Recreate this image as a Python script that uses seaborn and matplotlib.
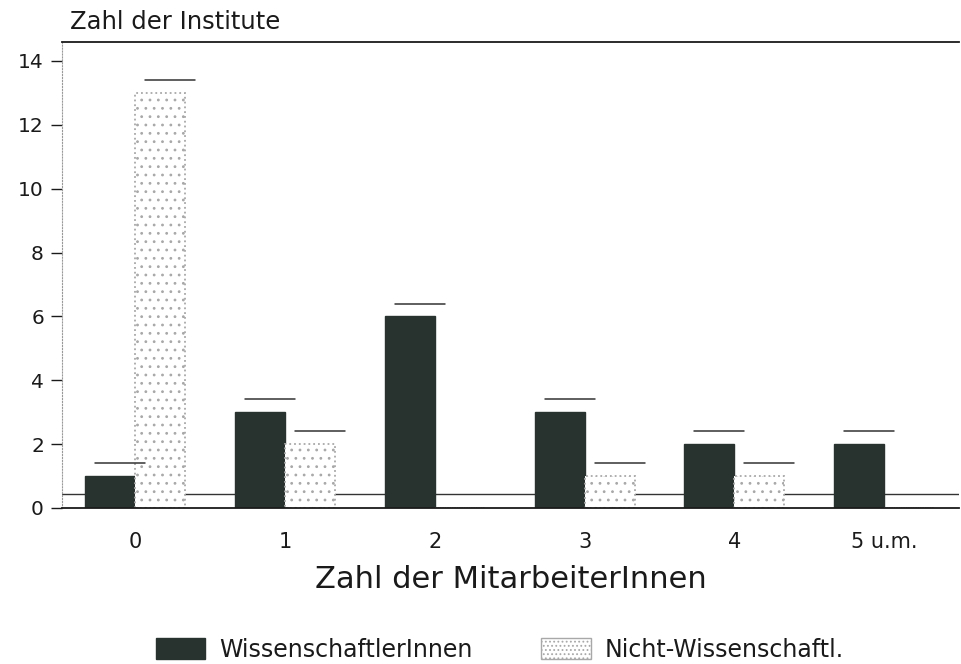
import pandas as pd
import matplotlib.pyplot as plt
import seaborn as sns
from matplotlib.patches import Patch

# values
categories = ['0', '1', '2', '3', '4', '5 u.m.']
wissenschaftler = [1, 3, 6, 3, 2, 2]
nicht_wissenschaftl = [13, 2, 0, 1, 1, 0]
series_names = ['WissenschaftlerInnen', 'Nicht-Wissenschaftl.']

df = pd.DataFrame({
    'cat': categories * 2,
    'val': wissenschaftler + nicht_wissenschaftl,
    'grp': [series_names[0]] * len(categories) + [series_names[1]] * len(categories),
})

sns.set_style('white')
plt.rcParams['font.family'] = ['DejaVu Sans']
plt.rcParams['hatch.linewidth'] = 0.8

dark = '#283330'
ink = '#1a1a1a'
fig = plt.figure(figsize=(9.61, 6.64), dpi=100)
ax = fig.add_axes([62 / 961, 0.235, 1 - 62 / 961 - 0.002, 0.702])

sns.barplot(data=df, x='cat', y='val', hue='grp', palette=[dark, 'white'],
            width=0.667, dodge=True, ax=ax, legend=False, saturation=1)

# light bars: sparse dotted hatch, dotted outline
n = len(categories)
for i, p in enumerate(ax.patches[:2 * n]):
    if i >= n:
        p.set_hatch('..')
        p.set_edgecolor('#a8a8a8')
        p.set_linestyle(':')
        p.set_linewidth(1.3)
    else:
        p.set_edgecolor(dark)

# pseudo-3D tops: short offset line above each bar
for p in ax.patches[:2 * n]:
    h = p.get_height()
    if h <= 0:
        continue
    x0 = p.get_x()
    w = p.get_width()
    ax.plot([x0 + 0.2 * w, x0 + 1.2 * w], [h + 0.4, h + 0.4],
            color='#333333', lw=1.1, zorder=3)

# back floor line
ax.axhline(0.45, color='#333333', lw=1.0, zorder=0)

ax.set_xlim(-0.49, 5.5)
ax.set_ylim(0, 14.6)
ax.set_yticks(range(0, 15, 2))
ax.tick_params(axis='y', which='both', left=True, length=8, width=1, pad=5,
               labelsize=14.5, colors=ink)
ax.tick_params(axis='x', length=0, pad=17, labelsize=15, colors=ink)

ax.spines['right'].set_visible(False)
ax.spines['left'].set_linestyle(':')
ax.spines['left'].set_color('#999999')
ax.spines['top'].set_color(ink)
ax.spines['top'].set_linewidth(1.3)
ax.spines['bottom'].set_color(ink)
ax.spines['bottom'].set_linewidth(1.3)

ax.set_ylabel('')
ax.set_xlabel('Zahl der MitarbeiterInnen', fontsize=22, color=ink, labelpad=10)
fig.text(70 / 961, 1 - 22 / 664, 'Zahl der Institute', fontsize=17.5,
         color=ink, va='center', ha='left')

handles = [Patch(facecolor=dark, edgecolor=dark),
           Patch(facecolor='white', edgecolor='#a8a8a8', hatch='....')]
fig.legend(handles, series_names, loc='center', bbox_to_anchor=(500 / 961, 1 - 650 / 664),
           ncol=2, frameon=False, fontsize=17, handlelength=2.1, handleheight=1.0,
           columnspacing=2.9, handletextpad=0.6, labelcolor=ink)

fig.savefig('out.png', dpi=100)
